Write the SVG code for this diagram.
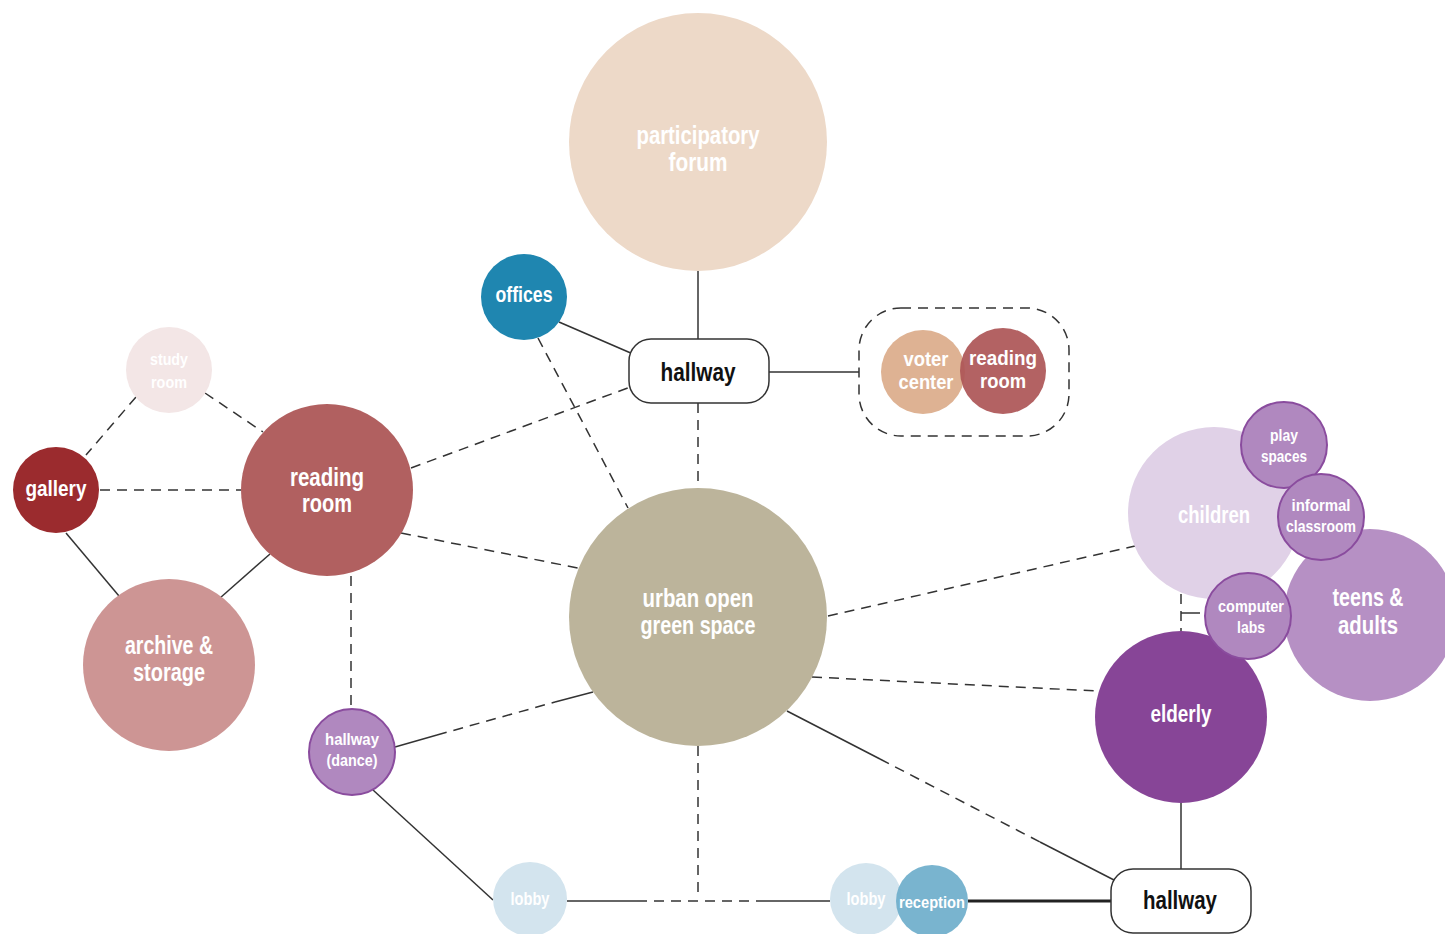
<svg xmlns="http://www.w3.org/2000/svg" width="1445" height="934" viewBox="0 0 1445 934">
<defs>
<style>
.t{font-family:"Liberation Sans","Arial",sans-serif;font-weight:bold;fill:#ffffff;text-anchor:middle}
.hw{font-family:"Liberation Sans","Arial",sans-serif;font-weight:bold;fill:#111;text-anchor:middle;font-size:26px}
.s{stroke:#333;stroke-width:1.5;fill:none}
.d{stroke:#333;stroke-width:1.5;fill:none;stroke-dasharray:10 7}
.sub{stroke:#8a4c9e;stroke-width:2;fill:#b088bf}
.box{fill:#fff;stroke:#333;stroke-width:1.5}
</style>
</defs>
<rect width="1445" height="934" fill="#fff"/>
<g id="connectors">
<line class="s" x1="698" y1="271" x2="698" y2="339"/>
<line class="s" x1="559" y1="322" x2="633" y2="354"/>
<line class="d" x1="538" y1="338" x2="628" y2="508"/>
<line class="d" x1="698" y1="403" x2="698" y2="488"/>
<line class="s" x1="769" y1="372" x2="859" y2="372"/>
<line class="d" x1="411" y1="468" x2="633" y2="386"/>
<line class="d" x1="401" y1="533" x2="578" y2="568"/>
<line class="d" x1="351" y1="576" x2="351" y2="709"/>
<line class="d" x1="205" y1="393" x2="263" y2="432"/>
<line class="d" x1="136" y1="397" x2="86" y2="455"/>
<line class="d" x1="100" y1="490" x2="241" y2="490"/>
<line class="s" x1="66" y1="533" x2="119" y2="596"/>
<line class="s" x1="220" y1="598" x2="270" y2="554"/>
<line class="s" x1="395" y1="747" x2="437" y2="735"/>
<line class="d" x1="437" y1="735" x2="555" y2="702"/>
<line class="s" x1="555" y1="702" x2="593" y2="692"/>
<line class="d" x1="698" y1="746" x2="698" y2="893"/>
<line class="s" x1="567" y1="901" x2="637" y2="901"/>
<line class="d" x1="637" y1="901" x2="757" y2="901"/>
<line class="s" x1="757" y1="901" x2="830" y2="901"/>
<line class="d" x1="828" y1="616" x2="1135" y2="546"/>
<line class="d" x1="812" y1="677" x2="1098" y2="691"/>
<line class="s" x1="787" y1="711" x2="880" y2="759"/>
<line class="d" x1="880" y1="759" x2="1040" y2="842"/>
<line class="s" x1="1040" y1="842" x2="1114" y2="880"/>
<line class="s" x1="373" y1="790" x2="493" y2="900"/>
<line stroke="#222" stroke-width="3" x1="968" y1="901" x2="1111" y2="901"/>
<line class="s" x1="1181" y1="803" x2="1181" y2="869"/>
<line class="d" x1="1181" y1="594" x2="1181" y2="632"/>
<line class="s" x1="1181" y1="613" x2="1200" y2="613"/>
</g>
<g id="forum"><circle cx="698" cy="142" r="129" fill="#edd9c8"/><text class="t" font-size="25" x="698" y="144" textLength="123" lengthAdjust="spacingAndGlyphs">participatory</text><text class="t" font-size="25" x="698" y="171" textLength="59" lengthAdjust="spacingAndGlyphs">forum</text></g>
<g id="offices"><circle cx="524" cy="297" r="43" fill="#1f86b0"/><text class="t" font-size="22" x="524" y="302" textLength="57" lengthAdjust="spacingAndGlyphs">offices</text></g>
<g id="hallway-top"><rect class="box" x="629" y="339" width="140" height="64" rx="22"/><text class="hw" x="698" y="381" textLength="75" lengthAdjust="spacingAndGlyphs">hallway</text></g>
<g id="voter-group"><rect x="859" y="308" width="210" height="128" rx="42" fill="none" stroke="#333" stroke-width="1.5" stroke-dasharray="10 7"/></g>
<g id="voter-center"><circle cx="923" cy="372" r="42" fill="#deb293"/><text class="t" font-size="21" x="926" y="366" textLength="45" lengthAdjust="spacingAndGlyphs">voter</text><text class="t" font-size="21" x="926" y="389" textLength="55" lengthAdjust="spacingAndGlyphs">center</text></g>
<g id="reading-room-small"><circle cx="1003" cy="371" r="43" fill="#ad5556" fill-opacity="0.92"/><text class="t" font-size="21" x="1003" y="365" textLength="68" lengthAdjust="spacingAndGlyphs">reading</text><text class="t" font-size="21" x="1003" y="388" textLength="46" lengthAdjust="spacingAndGlyphs">room</text></g>
<g id="study-room"><circle cx="169" cy="370" r="43" fill="#f3e6e6"/><text class="t" font-size="17" x="169" y="365" textLength="38" lengthAdjust="spacingAndGlyphs">study</text><text class="t" font-size="17" x="169" y="388" textLength="36" lengthAdjust="spacingAndGlyphs">room</text></g>
<g id="gallery"><circle cx="56" cy="490" r="43" fill="#9b2b2e"/><text class="t" font-size="22" x="56" y="496" textLength="61" lengthAdjust="spacingAndGlyphs">gallery</text></g>
<g id="reading-room"><circle cx="327" cy="490" r="86" fill="#b16060"/><text class="t" font-size="25" x="327" y="486" textLength="74" lengthAdjust="spacingAndGlyphs">reading</text><text class="t" font-size="25" x="327" y="512" textLength="50" lengthAdjust="spacingAndGlyphs">room</text></g>
<g id="archive"><circle cx="169" cy="665" r="86" fill="#cd9594"/><text class="t" font-size="25" x="169" y="654" textLength="88" lengthAdjust="spacingAndGlyphs">archive &amp;</text><text class="t" font-size="25" x="169" y="681" textLength="72" lengthAdjust="spacingAndGlyphs">storage</text></g>
<g id="hallway-dance"><circle class="sub" cx="352" cy="752" r="43"/><text class="t" font-size="17" x="352" y="745" textLength="54" lengthAdjust="spacingAndGlyphs">hallway</text><text class="t" font-size="17" x="352" y="766" textLength="51" lengthAdjust="spacingAndGlyphs">(dance)</text></g>
<g id="green-space"><circle cx="698" cy="617" r="129" fill="#bcb49b"/><text class="t" font-size="25" x="698" y="607" textLength="111" lengthAdjust="spacingAndGlyphs">urban open</text><text class="t" font-size="25" x="698" y="634" textLength="115" lengthAdjust="spacingAndGlyphs">green space</text></g>
<g id="lobby-left"><circle cx="530" cy="899" r="37" fill="#d3e4ee"/><text class="t" font-size="18" x="530" y="905" textLength="39" lengthAdjust="spacingAndGlyphs">lobby</text></g>
<g id="lobby-right"><circle cx="866" cy="899" r="36" fill="#d3e4ee"/><text class="t" font-size="18" x="866" y="905" textLength="39" lengthAdjust="spacingAndGlyphs">lobby</text></g>
<g id="reception"><circle cx="932" cy="901" r="36" fill="#6eaecb" fill-opacity="0.92"/><text class="t" font-size="17" x="932" y="908" textLength="66" lengthAdjust="spacingAndGlyphs">reception</text></g>
<g id="hallway-bottom"><rect class="box" x="1111" y="869" width="140" height="64" rx="22"/><text class="hw" x="1180" y="909" textLength="74" lengthAdjust="spacingAndGlyphs">hallway</text></g>
<g id="elderly"><circle cx="1181" cy="717" r="86" fill="#874597"/><text class="t" font-size="23" x="1181" y="722" textLength="61" lengthAdjust="spacingAndGlyphs">elderly</text></g>
<g id="children"><circle cx="1214" cy="513" r="86" fill="#e0d1e7"/><text class="t" font-size="23" x="1214" y="523" textLength="72" lengthAdjust="spacingAndGlyphs">children</text></g>
<g id="teens-adults"><circle cx="1370" cy="615" r="86" fill="#b690c4"/><text class="t" font-size="25" x="1368" y="606" textLength="71" lengthAdjust="spacingAndGlyphs">teens &amp;</text><text class="t" font-size="25" x="1368" y="634" textLength="60" lengthAdjust="spacingAndGlyphs">adults</text></g>
<g id="play-spaces"><circle class="sub" cx="1284" cy="445" r="43"/><text class="t" font-size="17" x="1284" y="441" textLength="28" lengthAdjust="spacingAndGlyphs">play</text><text class="t" font-size="17" x="1284" y="462" textLength="46" lengthAdjust="spacingAndGlyphs">spaces</text></g>
<g id="informal-classroom"><circle class="sub" cx="1321" cy="517" r="43"/><text class="t" font-size="17" x="1321" y="511" textLength="59" lengthAdjust="spacingAndGlyphs">informal</text><text class="t" font-size="17" x="1321" y="532" textLength="70" lengthAdjust="spacingAndGlyphs">classroom</text></g>
<g id="computer-labs"><circle class="sub" cx="1248" cy="616" r="43"/><text class="t" font-size="17" x="1251" y="612" textLength="66" lengthAdjust="spacingAndGlyphs">computer</text><text class="t" font-size="17" x="1251" y="633" textLength="28" lengthAdjust="spacingAndGlyphs">labs</text></g>
</svg>
